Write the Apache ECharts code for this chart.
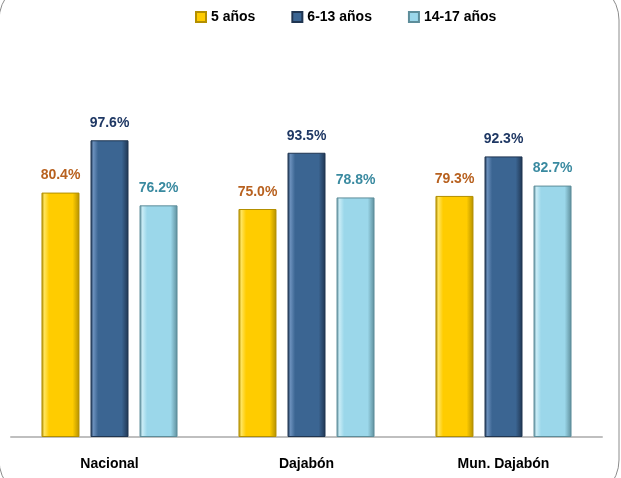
<!DOCTYPE html>
<html>
<head>
<meta charset="utf-8">
<script src="https://cdn.jsdelivr.net/npm/echarts@6/dist/echarts.min.js"></script>
<style>
  html, body { margin: 0; padding: 0; background: #fff; }
  #chart { width: 621px; height: 478px; }
</style>
</head>
<body>
<div id="chart"></div>
<script>
// datos
var categorias = ['Nacional', 'Dajabón', 'Mun. Dajabón'];
var series5 = [80.4, 75.0, 79.3];
var series6a13 = [97.6, 93.5, 92.3];
var series14a17 = [76.2, 78.8, 82.7];
var nombres = ['5 años', '6-13 años', '14-17 años'];

var fuente = '"Liberation Sans", Arial, sans-serif';

// degradado horizontal para simular el bisel de las barras
function bisel (claro, base, oscuro) {
  return new echarts.graphic.LinearGradient(0, 0, 1, 0, [
    { offset: 0, color: oscuro },
    { offset: 0.08, color: claro },
    { offset: 0.2, color: base },
    { offset: 0.82, color: base },
    { offset: 1, color: oscuro }
  ]);
}

function serie (nombre, datos, colores, colorTexto) {
  return {
    name: nombre,
    type: 'bar',
    data: datos,
    barWidth: 38,
    barGap: '29%',
    itemStyle: {
      color: bisel(colores[0], colores[1], colores[2]),
      borderColor: colores[2],
      borderWidth: 1
    },
    label: {
      show: true,
      position: 'top',
      distance: 10,
      formatter: function (p) { return p.value.toFixed(1) + '%'; },
      color: colorTexto,
      fontFamily: fuente,
      fontWeight: 'bold',
      fontSize: 14
    }
  };
}

var chart = echarts.init(document.getElementById('chart'));
chart.setOption({
  animation: false,
  graphic: [{
    type: 'rect',
    shape: { x: -1, y: -20, width: 620, height: 520, r: 40 },
    style: { fill: 'none', stroke: '#8c8c8c', lineWidth: 1 },
    silent: true
  }],
  legend: {
    top: 5,
    left: 190,
    icon: 'rect',
    itemWidth: 10,
    itemHeight: 10,
    itemGap: 36,
    data: nombres,
    textStyle: {
      fontFamily: fuente,
      fontWeight: 'bold',
      fontSize: 14,
      color: '#000'
    }
  },
  grid: {
    left: 11,
    right: 19,
    top: 133,
    bottom: 41
  },
  xAxis: {
    type: 'category',
    data: categorias,
    axisLine: { lineStyle: { color: '#bfbfbf', width: 2 } },
    axisTick: { show: false },
    axisLabel: {
      margin: 20,
      color: '#000',
      fontFamily: fuente,
      fontWeight: 'bold',
      fontSize: 14
    }
  },
  yAxis: {
    type: 'value',
    min: 0,
    max: 100,
    show: false,
    splitLine: { show: false }
  },
  series: [
    serie(nombres[0], series5, ['#ffe45c', '#ffcc00', '#b38f00'], '#b8611f'),
    serie(nombres[1], series6a13, ['#6a8fbb', '#3b6592', '#1f3551'], '#1f3864'),
    serie(nombres[2], series14a17, ['#c8ecf6', '#9bd7ea', '#5d8d9a'], '#3a8aa0')
  ]
});
</script>
</body>
</html>
